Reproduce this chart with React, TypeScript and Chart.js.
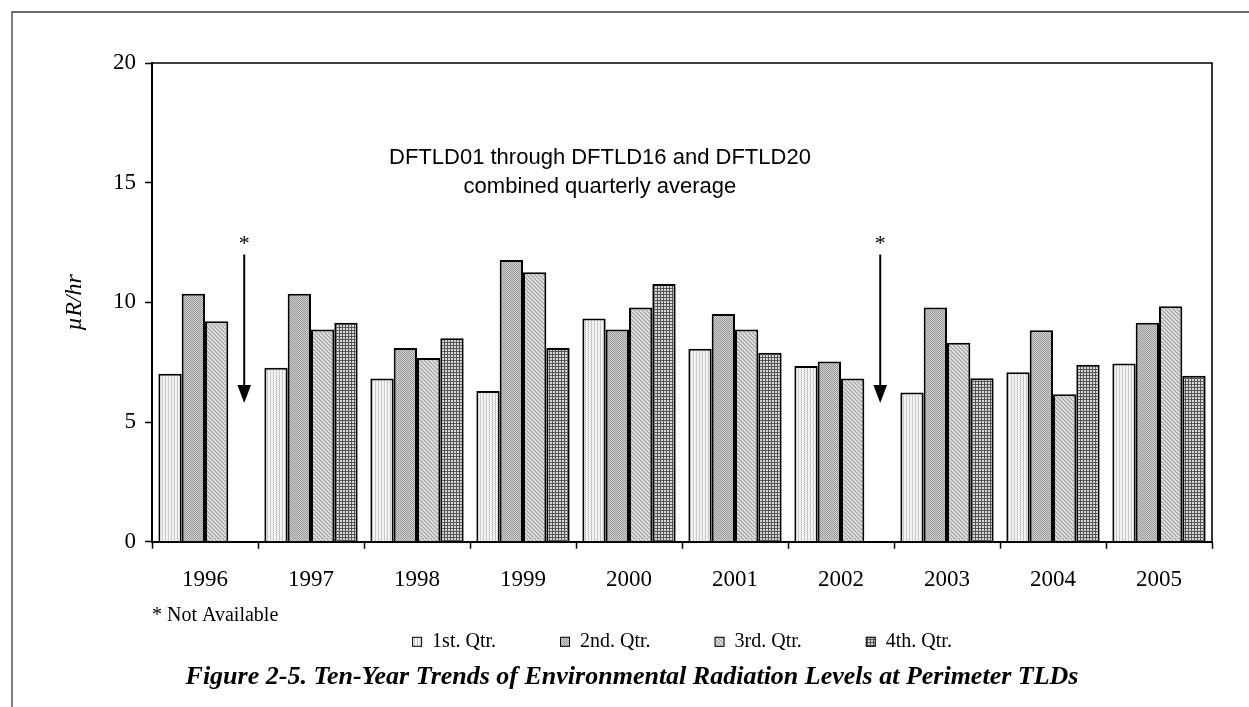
import React, { useEffect, useRef } from "react";
import { Chart, registerables } from "chart.js";

Chart.register(...registerables);

// ---- data ----
const years = ["1996", "1997", "1998", "1999", "2000", "2001", "2002", "2003", "2004", "2005"];
const seriesNames = ["1st. Qtr.", "2nd. Qtr.", "3rd. Qtr.", "4th. Qtr."];
const q1: (number | null)[] = [7.02, 7.27, 6.82, 6.3, 9.33, 8.06, 7.34, 6.24, 7.08, 7.45];
const q2: (number | null)[] = [10.36, 10.36, 8.1, 11.77, 8.87, 9.52, 7.53, 9.79, 8.84, 9.15];
const q3: (number | null)[] = [9.21, 8.87, 7.68, 11.26, 9.79, 8.87, 6.82, 8.31, 6.16, 9.84];
const q4: (number | null)[] = [null, 9.15, 8.5, 8.1, 10.77, 7.9, null, 6.83, 7.4, 6.94];
const yTicks = [0, 5, 10, 15, 20];
const yTitle = "\u00B5R/hr";
const noteLines = ["DFTLD01 through DFTLD16 and DFTLD20", "combined quarterly average"];
const footnote = "* Not Available";
const caption = "Figure 2-5. Ten-Year Trends of Environmental Radiation Levels at Perimeter TLDs";
// annotation levels (in axis units)
const arrowTopValue = 12;
const arrowHeadBaseValue = 6.55;
const arrowTipValue = 5.8;
const starValue = 12.45;
const noteLineValues = [16.05, 14.83];

const SERIF = "'Liberation Serif', 'Times New Roman', serif";
const SANS = "'Liberation Sans', Arial, sans-serif";

function makePattern(size: number, paint: (x: number, y: number) => string): CanvasPattern | string {
  const c = document.createElement("canvas");
  c.width = size;
  c.height = size;
  const ctx = c.getContext("2d");
  if (!ctx) return "#ccc";
  for (let y = 0; y < size; y++) {
    for (let x = 0; x < size; x++) {
      ctx.fillStyle = paint(x, y);
      ctx.fillRect(x, y, 1, 1);
    }
  }
  return ctx.createPattern(c, "repeat") || "#ccc";
}

export default function App() {
  const ref = useRef<HTMLCanvasElement | null>(null);

  useEffect(() => {
    const canvas = ref.current;
    if (!canvas) return;

    const p1 = makePattern(6, (x, y) => {
      if (x % 3 === 0) return y % 2 === 0 ? "#bdbdbd" : "#d6d6d6";
      if (x % 3 === 1) return "#f6f6f6";
      return y % 2 === 1 ? "#e4e4e4" : "#ffffff";
    });
    const p2 = makePattern(4, (x, y) => ((x + y) % 2 === 0 ? "#9a9a9a" : "#d0d0d0"));
    const p3 = makePattern(4, (x, y) => {
      if ((x + y) % 2 === 0) return (x + 4 - y) % 4 === 0 ? "#a2a2a2" : "#e6e6e6";
      return y % 2 === 0 ? "#c2c2c2" : "#d4d4d4";
    });
    const p4 = makePattern(3, (x, y) => (x === 0 || y === 0 ? "#555555" : "#d9d9d9"));
    const fills = [p1, p2, p3, p4];
    const series = [q1, q2, q3, q4];

    const extras = {
      id: "extras",
      beforeDraw(chart: any) {
        const ctx = chart.ctx;
        ctx.save();
        ctx.strokeStyle = "#3a3a3a";
        ctx.lineWidth = 1.3;
        ctx.beginPath();
        ctx.moveTo(12, chart.height);
        ctx.lineTo(12, 12);
        ctx.lineTo(chart.width, 12);
        ctx.stroke();
        ctx.restore();
      },
      afterDatasetsDraw(chart: any) {
        const ctx = chart.ctx;
        const xs = chart.scales.x;
        const ys = chart.scales.y;
        const area = chart.chartArea;
        const catW = (area.right - area.left) / years.length;
        ctx.save();
        // missing-value arrows
        q4.forEach((v, i) => {
          if (v !== null) return;
          const x = xs.getPixelForValue(i) + catW * 0.37;
          const yTop = ys.getPixelForValue(arrowTopValue);
          const yBase = ys.getPixelForValue(arrowHeadBaseValue);
          const yTip = ys.getPixelForValue(arrowTipValue);
          ctx.strokeStyle = "#000";
          ctx.lineWidth = 2;
          ctx.beginPath();
          ctx.moveTo(x, yTop);
          ctx.lineTo(x, yBase);
          ctx.stroke();
          ctx.fillStyle = "#000";
          ctx.beginPath();
          ctx.moveTo(x - 6.8, yBase);
          ctx.lineTo(x + 6.8, yBase);
          ctx.lineTo(x, yTip);
          ctx.closePath();
          ctx.fill();
          ctx.font = `22px ${SERIF}`;
          ctx.textAlign = "center";
          ctx.textBaseline = "middle";
          ctx.fillText("*", x, ys.getPixelForValue(starValue));
        });
        // note text
        ctx.fillStyle = "#000";
        ctx.font = `22px ${SANS}`;
        ctx.textAlign = "center";
        ctx.textBaseline = "middle";
        const noteX = area.left + (area.right - area.left) * 0.4226;
        noteLines.forEach((t, i) => ctx.fillText(t, noteX, ys.getPixelForValue(noteLineValues[i])));
        ctx.restore();
      },
      afterDraw(chart: any) {
        const ctx = chart.ctx;
        const area = chart.chartArea;
        ctx.save();
        // plot frame (top and right)
        ctx.strokeStyle = "#000";
        ctx.lineWidth = 1.6;
        ctx.beginPath();
        ctx.moveTo(area.left, area.top);
        ctx.lineTo(area.right, area.top);
        ctx.lineTo(area.right, area.bottom);
        ctx.stroke();
        // footnote
        ctx.fillStyle = "#000";
        ctx.font = `20px ${SERIF}`;
        ctx.textAlign = "left";
        ctx.textBaseline = "middle";
        ctx.fillText(footnote, area.left, area.bottom + 74);
        // legend
        const box = 10;
        const gap = 64;
        const fs = 20;
        ctx.font = `${fs}px ${SERIF}`;
        const widths = seriesNames.map((n) => box + fs / 2 + ctx.measureText(n).width);
        const total = widths.reduce((a, b) => a + b, 0) + gap * (seriesNames.length - 1);
        let lx = (area.left + area.right) / 2 - total / 2;
        const ly = area.bottom + 100;
        seriesNames.forEach((n, i) => {
          ctx.fillStyle = fills[i] as any;
          ctx.fillRect(lx, ly - box / 2, box, box);
          ctx.strokeStyle = "#000";
          ctx.lineWidth = 1;
          ctx.strokeRect(lx + 0.5, ly - box / 2 + 0.5, box - 1, box - 1);
          ctx.fillStyle = "#000";
          ctx.fillText(n, lx + box + fs / 2, ly);
          lx += widths[i] + gap;
        });
        ctx.restore();
      },
    };

    const chart = new Chart(canvas, {
      type: "bar",
      data: {
        labels: years,
        datasets: series.map((d, i) => ({
          label: seriesNames[i],
          data: d,
          backgroundColor: fills[i] as any,
          borderColor: "#000",
          borderWidth: 2,
          categoryPercentage: 0.88,
          barPercentage: 1.0,
        })),
      },
      options: {
        responsive: false,
        animation: false,
        devicePixelRatio: 1,
        layout: { padding: { left: 52, right: 37, top: 63, bottom: 14 } },
        plugins: {
          tooltip: { enabled: false },
          legend: { display: false },
          title: {
            display: true,
            position: "bottom",
            text: caption,
            color: "#000",
            font: { family: SERIF, size: 26, weight: "bold", style: "italic" },
            padding: { top: 0, bottom: 0 },
          },
        },
        scales: {
          x: {
            afterFit: (s: any) => {
              s.height = 120;
            },
            grid: {
              display: true,
              drawOnChartArea: false,
              drawTicks: true,
              tickLength: 7,
              tickColor: "#000",
              tickWidth: 1.5,
              offset: true,
            },
            border: { display: true, color: "#000", width: 2 },
            ticks: {
              color: "#000",
              font: { family: SERIF, size: 23 },
              padding: 17,
              maxRotation: 0,
              autoSkip: false,
            },
          },
          y: {
            min: 0,
            max: 20,
            afterFit: (s: any) => {
              s.width = 100;
            },
            afterBuildTicks: (s: any) => {
              s.ticks = yTicks.map((v) => ({ value: v }));
            },
            grid: {
              display: true,
              drawOnChartArea: false,
              drawTicks: true,
              tickLength: 7,
              tickColor: "#000",
              tickWidth: 1.5,
            },
            border: { display: true, color: "#000", width: 2 },
            ticks: {
              color: "#000",
              font: { family: SERIF, size: 23 },
              padding: 9,
            },
            title: {
              display: true,
              text: yTitle,
              color: "#000",
              font: { family: SERIF, size: 24, style: "italic" },
              padding: { top: 8, bottom: 0 },
            },
          },
        },
      },
      plugins: [extras],
    });

    return () => chart.destroy();
  }, []);

  return (
    <div style={{ position: "absolute", left: 0, top: 0, width: 1249, height: 707, background: "#fff" }}>
      <canvas ref={ref} width={1249} height={707} style={{ display: "block", width: 1249, height: 707 }} />
    </div>
  );
}
